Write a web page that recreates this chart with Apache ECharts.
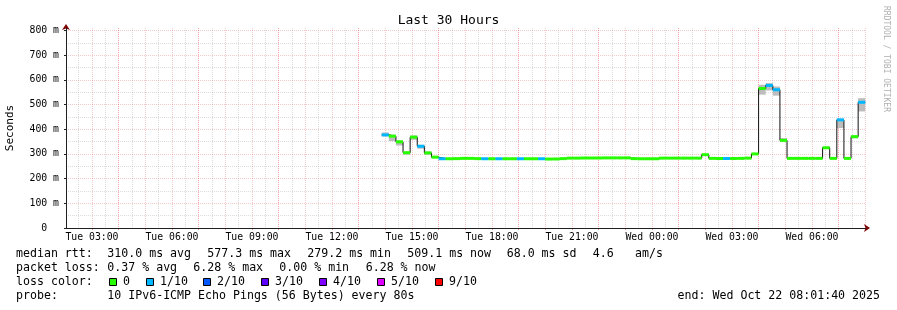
<!DOCTYPE html>
<html><head><meta charset="utf-8">
<script src="https://cdn.jsdelivr.net/npm/echarts@6/dist/echarts.min.js"></script>
<style>html,body{margin:0;padding:0;background:#fff}#c{width:897px;height:310px}</style>
</head><body><div id="c"></div>
<script>
// ---- data ----
const axisStart = 'Tue 02:01:40';
const axisEnd = 'Wed 08:01:40';
const stepTimes = ['Tue 13:52','Tue 14:08','Tue 14:24','Tue 14:40','Tue 14:56','Tue 15:12','Tue 15:28','Tue 15:44','Tue 16:00','Tue 16:16',
'Tue 16:32','Tue 16:48','Tue 17:04','Tue 17:20','Tue 17:36','Tue 17:52','Tue 18:08','Tue 18:24','Tue 18:40','Tue 18:56',
'Tue 19:12','Tue 19:28','Tue 19:44','Tue 20:00','Tue 20:16','Tue 20:32','Tue 20:48','Tue 21:04','Tue 21:20','Tue 21:36',
'Tue 21:52','Tue 22:08','Tue 22:24','Tue 22:40','Tue 22:56','Tue 23:12','Tue 23:28','Tue 23:44','Wed 00:00','Wed 00:16',
'Wed 00:32','Wed 00:48','Wed 01:04','Wed 01:20','Wed 01:36','Wed 01:52','Wed 02:08','Wed 02:24','Wed 02:40','Wed 02:56',
'Wed 03:12','Wed 03:28','Wed 03:44','Wed 04:00','Wed 04:16','Wed 04:32','Wed 04:48','Wed 05:04','Wed 05:20','Wed 05:36',
'Wed 05:52','Wed 06:08','Wed 06:24','Wed 06:40','Wed 06:56','Wed 07:12','Wed 07:28','Wed 07:44'];
const lastStepEnd = 'Wed 08:00';
const medianMs = [377,372,349,305,368,331,304,287,280.5,280.5,
281,282,282,281,280.5,280.5,280.5,280.5,280.5,280.5,
280.5,280.5,280.5,279.2,279.5,281,283,283,283.5,283.5,
283.5,284,284,284,284,281,280.5,280.5,280.5,283,
283,283,283,283,283,297,282,281.5,281.5,281.5,
282,283,300,565,577.3,560,355,282,282,282,
282,282,325,282,438,282,370,509.1];
const lossIdx = [1,0,0,0,0,1,0,0,1,0,
0,0,0,0,1,0,1,0,0,1,
0,0,1,0,0,0,0,0,0,0,
0,0,0,0,0,0,0,0,0,0,
0,0,0,0,0,0,0,0,1,0,
0,0,0,0,1,1,0,0,0,0,
0,0,0,0,1,0,0,1];
const smokeLo = [371,352,334,297,357,321,297,283,null,null,
null,null,null,null,null,null,null,null,null,null,
null,null,null,null,null,null,null,null,null,null,
null,null,null,null,null,null,null,null,null,null,
null,null,null,null,null,null,null,null,null,null,
null,null,296,540,557,536,348,null,null,null,
null,null,320,null,405,null,363,472];
const smokeHi = [387,378,355,306,375,337,310,291,null,null,
null,null,null,null,null,null,null,null,null,null,
null,null,null,null,null,null,null,null,null,null,
null,null,null,null,null,null,null,null,null,null,
null,null,null,null,null,null,null,null,null,null,
null,null,303,580,587,573,364,null,null,null,
null,null,330,null,442,null,374,526];
const yTickMs = [0,100,200,300,400,500,600,700,800];
const yMinorMs = [50,150,250,350,450,550,650,750];
const xLabelTimes = ['Tue 03:00','Tue 06:00','Tue 09:00','Tue 12:00','Tue 15:00','Tue 18:00','Tue 21:00','Wed 00:00','Wed 03:00','Wed 06:00'];
const lossLabels = ['0','1/10','2/10','3/10','4/10','5/10','9/10'];
const lossColors = ['#26ff00','#00b8ff','#0059ff','#5e00ff','#7e00ff','#dd00ff','#ff0000'];
const rttStats = ['310.0 ms avg','577.3 ms max','279.2 ms min','509.1 ms now','68.0 ms sd','4.6','am/s'];
const lossStats = ['0.37 % avg','6.28 % max','0.00 % min','6.28 % now'];
const probeText = '10 IPv6-ICMP Echo Pings (56 Bytes) every 80s';
const endText = 'end: Wed Oct 22 08:01:40 2025';

// ---- helpers ----
function toH(s){const [d,hm]=s.split(' ');const p=hm.split(':').map(Number);return (d==='Wed'?24:0)+p[0]+p[1]/60+(p[2]||0)/3600;}
const X_MIN = toH(axisStart), X_MAX = toH(axisEnd);
const Y_MAX = 810;
const MONO = '"DejaVu Sans Mono", monospace';
const hourly=[], halfHourly=[], threeHourly=[];
for(let h=Math.ceil(X_MIN); h<=X_MAX; h++){hourly.push(h); if((h-1)%3===0) threeHourly.push(h);}
for(let h=Math.ceil(X_MIN-0.5)+0.5; h<=X_MAX; h++){halfHourly.push(h);}
const xLabelVals = xLabelTimes.map(toH);

const stepStarts = stepTimes.map(toH);
const stepEnds = stepStarts.slice(1).concat([toH(lastStepEnd)]);
const medData = stepStarts.map((t,i)=>[t, medianMs[i]]).concat([[toH(lastStepEnd), medianMs[medianMs.length-1]]]);
const rectData = stepStarts.map((t,i)=>[t, stepEnds[i], medianMs[i], lossIdx[i]]);
const smokeData = stepStarts.map((t,i)=>[t, stepEnds[i], smokeLo[i], smokeHi[i]]).filter(d=>d[2]!=null);

const xBase = {type:'value', min:X_MIN, max:X_MAX, position:'bottom', axisLine:{show:false}, axisTick:{show:false}, axisLabel:{show:false}, splitLine:{show:false}};
const yBase = {type:'value', min:0, max:Y_MAX, position:'left', axisLine:{show:false}, axisTick:{show:false}, axisLabel:{show:false}, splitLine:{show:false}};
const pink = 'rgba(222,79,79,0.3)';
const grey = 'rgba(140,140,140,0.3)';

const chart = echarts.init(document.getElementById('c'), null, {renderer:'canvas'});
const gText = [];
function txt(x,y,t,opt){gText.push({type:'text', x, y, silent:true, style:Object.assign({text:t, fill:'#000', font:'11.6px '+MONO, verticalAlign:'middle', align:'left'}, opt||{})});}
txt(16,254.3,'median rtt:');
const rttX=[107.3,207.3,307.3,407.3,506.7,592.7,635];
rttStats.forEach((s,i)=>txt(rttX[i],254.3,s));
txt(16,268.3,'packet loss:');
const lossX=[107.3,193.3,279.3,365.7];
lossStats.forEach((s,i)=>txt(lossX[i],268.3,s));
txt(16,282.3,'loss color:');
const boxX=[109,146,203,261,319,377,435];
lossLabels.forEach((s,i)=>{
  gText.push({type:'rect', silent:true, shape:{x:boxX[i]+0.5, y:278.5, width:7, height:7}, style:{fill:lossColors[i], stroke:'#000', lineWidth:1}});
  txt(boxX[i]+14,282.3,s);
});
txt(16,296,'probe:');
txt(107.3,296,probeText);
txt(880,296,endText,{align:'right'});
gText.push({type:'text', x:886.5, y:59, rotation:-Math.PI/2, silent:true, style:{text:'RRDTOOL / TOBI OETIKER', fill:'#b0b0b0', font:'8px '+MONO, align:'center', verticalAlign:'middle'}});

chart.setOption({
  animation:false,
  backgroundColor:'#ffffff',
  title:{text:'Last 30 Hours', left:'center', top:9, textStyle:{fontFamily:MONO, fontSize:13, fontWeight:'normal', color:'#000'}},
  grid:{left:66, top:28, width:800, height:200, containLabel:false, outerBoundsMode:'none'},
  xAxis:[
    Object.assign({}, xBase, {z:4, axisLine:{show:true, lineStyle:{color:'#1f1f1f', width:1}},
      axisLabel:{show:true, customValues:xLabelVals, margin:4, fontFamily:MONO, fontSize:9.8, color:'#000',
        formatter:(v)=>{const i=xLabelVals.findIndex(x=>Math.abs(x-v)<1e-6);return i>=0?xLabelTimes[i]:'';}},
      axisTick:{show:false, customValues:xLabelVals}}),
    Object.assign({}, xBase, {z:1, axisTick:{show:true, customValues:hourly, length:2, inside:false, lineStyle:{color:'rgba(222,79,79,0.6)'}},
      splitLine:{show:true, lineStyle:{color:pink, type:[1,1], width:1}}}),
    Object.assign({}, xBase, {z:1, axisTick:{show:false, customValues:threeHourly},
      splitLine:{show:true, lineStyle:{color:'rgba(222,79,79,0.3)', type:[1,1], width:1}}}),
    Object.assign({}, xBase, {z:0, axisTick:{show:false, customValues:halfHourly},
      splitLine:{show:true, lineStyle:{color:grey, type:[1,1], width:1}}}),
    Object.assign({}, xBase, {z:3, axisTick:{show:false, customValues:[]}, axisLine:{show:true, symbol:['none','arrow'], symbolSize:[6,6], symbolOffset:[0,4], lineStyle:{color:'#800000', width:1}}})
  ],
  yAxis:[
    Object.assign({}, yBase, {z:4, axisLine:{show:true, lineStyle:{color:'#1f1f1f', width:1}},
      axisLabel:{show:true, customValues:yTickMs, margin:7, fontFamily:MONO, fontSize:9.8, color:'#000',
        formatter:(v)=> v===0 ? '0\u00a0\u00a0' : v+' m'},
      axisTick:{show:true, customValues:yTickMs, length:2, lineStyle:{color:'#1f1f1f'}},
      name:'Seconds', nameLocation:'middle', nameGap:50, nameTextStyle:{fontFamily:MONO, fontSize:11, color:'#000'}}),
    Object.assign({}, yBase, {z:1, axisTick:{show:false, customValues:yTickMs},
      splitLine:{show:true, lineStyle:{color:pink, type:[1,1], width:1}}}),
    Object.assign({}, yBase, {z:0, axisTick:{show:false, customValues:yMinorMs},
      splitLine:{show:true, lineStyle:{color:grey, type:[1,1], width:1}}}),
    Object.assign({}, yBase, {z:3, axisTick:{show:false, customValues:[]}, axisLine:{show:true, symbol:['none','arrow'], symbolSize:[6,6], symbolOffset:[0,4], lineStyle:{color:'#800000', width:1}}})
  ],
  series:[
    {type:'custom', name:'smoke', silent:true, z:2, data:smokeData,
      renderItem:(params, api)=>{
        const p0=api.coord([api.value(0), api.value(3)]), p1=api.coord([api.value(1), api.value(2)]);
        return {type:'rect', shape:{x:p0[0], y:p0[1], width:p1[0]-p0[0], height:p1[1]-p0[1]}, style:{fill:'#bdbdbd'}};
      }},
    {type:'line', name:'median', step:'end', data:medData, symbol:'none', silent:true, z:3,
      lineStyle:{color:'#111', width:1}},
    {type:'custom', name:'median rtt', silent:true, z:4, data:rectData,
      renderItem:(params, api)=>{
        const p0=api.coord([api.value(0), api.value(2)]), p1=api.coord([api.value(1), api.value(2)]);
        return {type:'rect', shape:{x:p0[0], y:p0[1]-1.5, width:p1[0]-p0[0], height:3}, style:{fill:lossColors[api.value(3)]}};
      }}
  ],
  graphic: gText
});
</script></body></html>
